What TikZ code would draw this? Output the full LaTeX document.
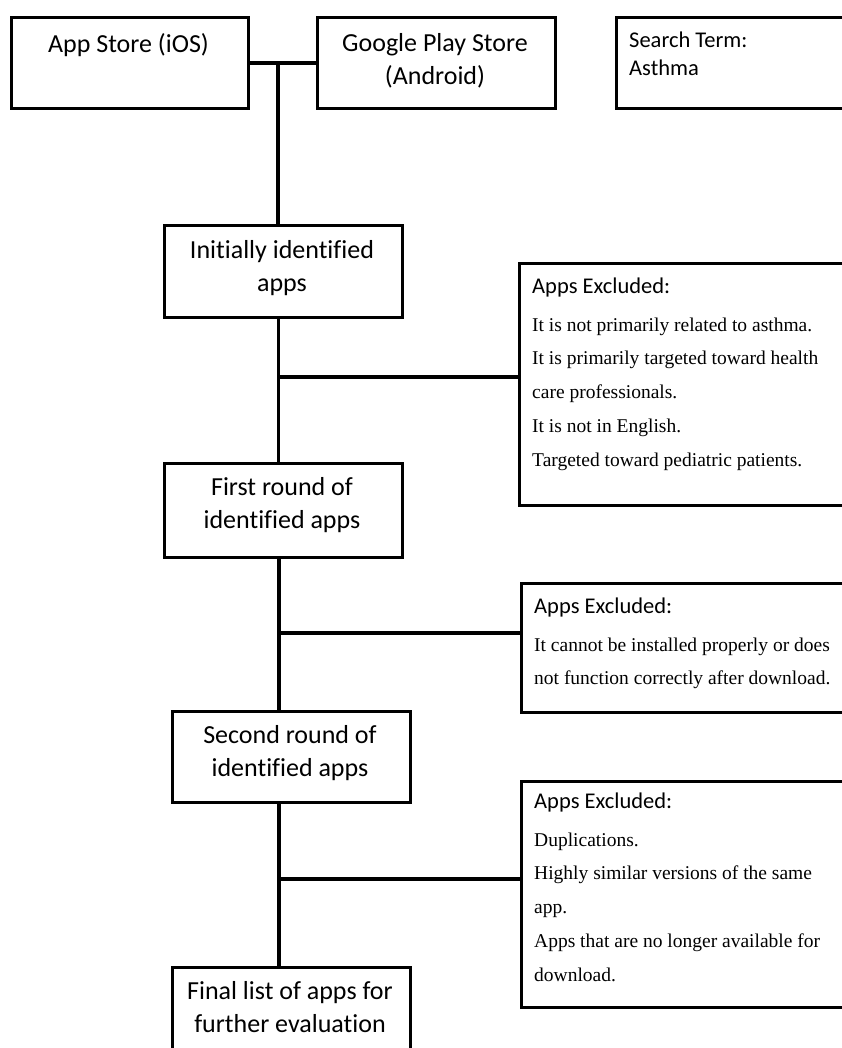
\documentclass[tikz,border=0pt]{standalone}
\usepackage{fontspec}
\setmainfont[Ligatures=NoCommon]{Liberation Serif}
\newfontfamily\boxfont[Ligatures=NoCommon]{Carlito}
\begin{document}
\begin{tikzpicture}[x=1pt,y=-1pt,
  box/.style={draw=black, line width=3.4pt, rectangle, inner sep=0pt, anchor=north west},
  boxlabel/.style={font=\boxfont\fontsize{26}{32.5}\selectfont, align=center, inner sep=0pt, anchor=north},
  headlabel/.style={font=\boxfont\fontsize{22.5}{28}\selectfont, align=left, inner sep=0pt, anchor=north west},
  listlabel/.style={font=\fontsize{19.5}{33.75}\selectfont, align=left, inner sep=0pt, anchor=north west},
  link/.style={draw=black, line width=3.4pt}]
\useasboundingbox (0,0) rectangle (842,1048);
\clip (0,0) rectangle (842,1048);
\fill[white] (0,0) rectangle (842,1048);

% sources and search term
\node[box, minimum width=237pt, minimum height=91pt] (ios) at (10,16) {};
\node[boxlabel] (iosT) at (128.5,33.5) {App Store (iOS)};
\node[box, minimum width=238pt, minimum height=91pt] (gp) at (316,16) {};
\node[boxlabel] (gpT) at (435,33.5) {Google Play Store\\(Android)};
\node[box, minimum width=260pt, minimum height=91pt] (st) at (615,16) {};
\node[headlabel] (stT) at (629,31.5) {Search Term:\\Asthma};

% screening stages
\node[box, minimum width=238pt, minimum height=92pt] (ini) at (163,224) {};
\node[boxlabel] (iniT) at (282,240.5) {Initially identified\\apps};
\node[box, minimum width=238pt, minimum height=94pt] (first) at (163,462) {};
\node[boxlabel] (firstT) at (282,477.5) {First round of\\identified apps};
\node[box, minimum width=238pt, minimum height=91pt] (second) at (171,710) {};
\node[boxlabel] (secondT) at (290,725.5) {Second round of\\identified apps};
\node[box, minimum width=238pt, minimum height=120pt] (final) at (171,966) {};
\node[boxlabel] (finalT) at (290,981.5) {Final list of apps for\\further evaluation};

% exclusion criteria
\node[box, minimum width=360pt, minimum height=242pt] (ex1) at (518,262) {};
\node[headlabel] (ex1H) at (532,277.5) {Apps Excluded:};
\node[listlabel] (ex1L) at (532,317.5) {It is not primarily related to asthma.\\It is primarily targeted toward health\\care professionals.\\It is not in English.\\Targeted toward pediatric patients.};
\node[box, minimum width=360pt, minimum height=129pt] (ex2) at (520,582) {};
\node[headlabel] (ex2H) at (534,597.5) {Apps Excluded:};
\node[listlabel] (ex2L) at (534,637.5) {It cannot be installed properly or does\\not function correctly after download.};
\node[box, minimum width=360pt, minimum height=226pt] (ex3) at (520,780) {};
\node[headlabel] (ex3H) at (534,792.5) {Apps Excluded:};
\node[listlabel] (ex3L) at (534,832.5) {Duplications.\\Highly similar versions of the same\\app.\\Apps that are no longer available for\\download.};

% connectors
\coordinate (j0) at (278,61.5);
\coordinate (j1) at (278.5,377);
\coordinate (j2) at (279,633);
\coordinate (j3) at (279,879);
\draw[link] (ios.east) -- (gp.west);
\draw[link] (j0) -- (j0 |- ini.north);
\draw[link] (ini.south -| j1) -- (first.north -| j1);
\draw[link] (j1) -- (j1 -| ex1.west);
\draw[link] (first.south -| j2) -- (second.north -| j2);
\draw[link] (j2) -- (j2 -| ex2.west);
\draw[link] (second.south -| j3) -- (final.north -| j3);
\draw[link] (j3) -- (j3 -| ex3.west);
\end{tikzpicture}
\end{document}
